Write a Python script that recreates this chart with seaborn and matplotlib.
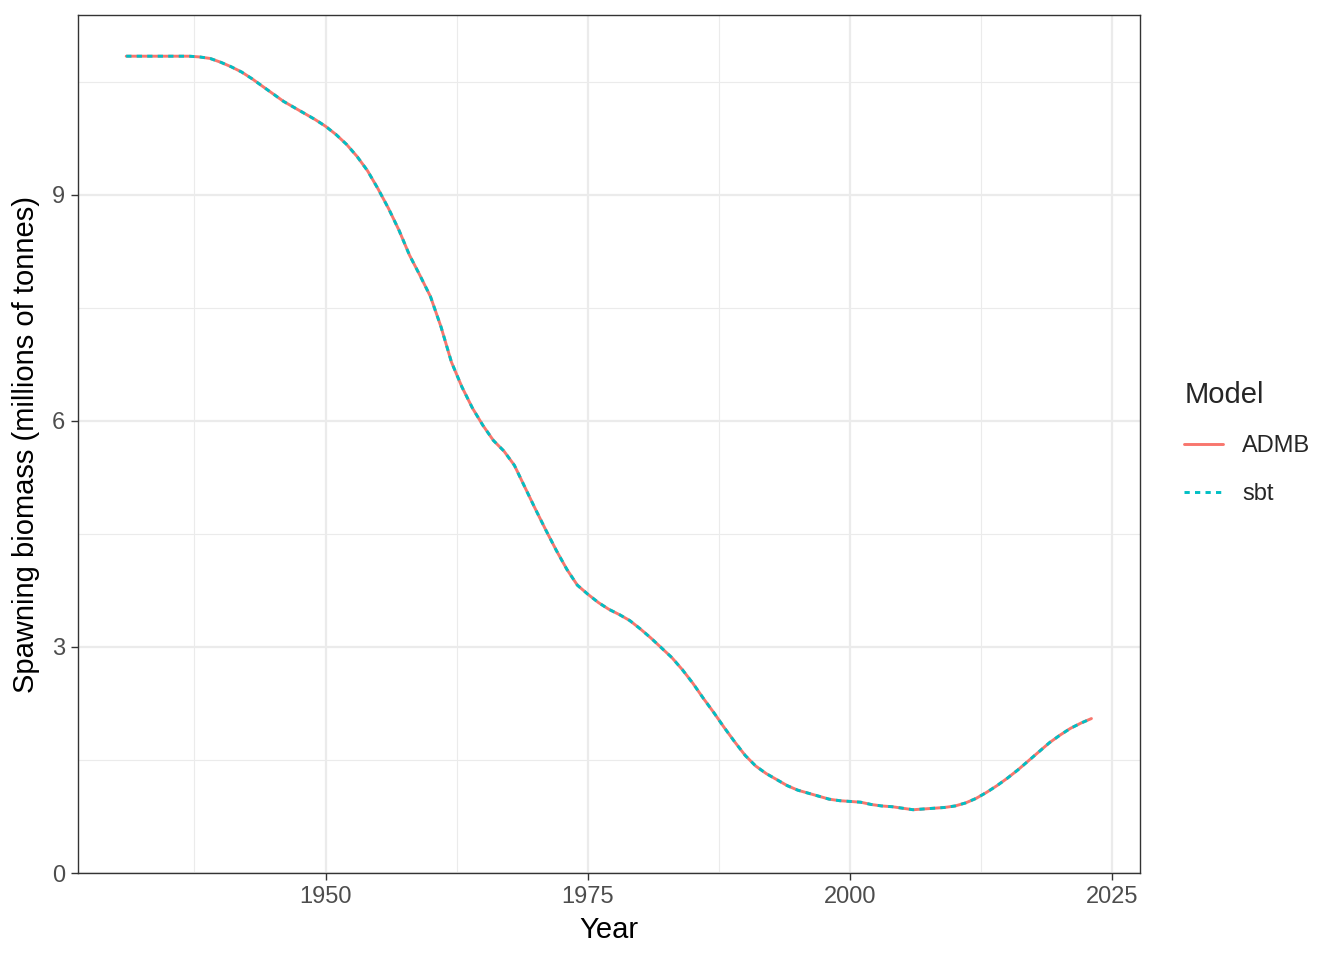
import numpy as np
import pandas as pd
import seaborn as sns
import matplotlib.pyplot as plt
from matplotlib.ticker import MultipleLocator

# spawning biomass (millions of tonnes), 1931-2023
years = np.arange(1931, 2024)
admb_biomass = [
    10.84, 10.84, 10.84, 10.84, 10.84, 10.84, 10.84, 10.83, 10.81, 10.76,
    10.70, 10.63, 10.54, 10.44, 10.34, 10.24, 10.16, 10.08, 10.00, 9.91,
    9.80, 9.67, 9.51, 9.32, 9.08, 8.82, 8.53, 8.20, 7.93, 7.65,
    7.25, 6.78, 6.45, 6.17, 5.94, 5.74, 5.60, 5.41, 5.12, 4.83,
    4.55, 4.28, 4.03, 3.82, 3.70, 3.59, 3.50, 3.43, 3.35, 3.24,
    3.12, 2.99, 2.86, 2.70, 2.52, 2.32, 2.13, 1.93, 1.74, 1.56,
    1.42, 1.32, 1.24, 1.16, 1.10, 1.06, 1.02, 0.98, 0.96, 0.95,
    0.94, 0.91, 0.89, 0.88, 0.86, 0.84, 0.85, 0.86, 0.87, 0.89,
    0.93, 0.99, 1.07, 1.16, 1.26, 1.37, 1.49, 1.61, 1.73, 1.83,
    1.92, 1.99, 2.05,
]
# the two fits overlap everywhere
sbt_biomass = list(admb_biomass)
models = ['ADMB', 'sbt']

df = pd.concat([
    pd.DataFrame({'Year': years, 'Biomass': admb_biomass, 'Model': models[0]}),
    pd.DataFrame({'Year': years, 'Biomass': sbt_biomass, 'Model': models[1]}),
])

sns.set_style('white')
plt.rcParams['font.family'] = ['Liberation Sans', 'DejaVu Sans']

fig = plt.figure(figsize=(13.44, 9.6), dpi=100)
ax = fig.add_axes([0.058, 0.0906, 0.790, 0.8934])

palette = {'ADMB': '#F8766D', 'sbt': '#00BFC4'}
sns.lineplot(data=df, x='Year', y='Biomass', hue='Model', style='Model',
             palette=palette, dashes={'ADMB': '', 'sbt': (1.8, 1.8)},
             linewidth=2.1, ax=ax, legend=False)

# ggplot-style limits: 5% expansion, y anchored at 0
xr = years.max() - years.min()
ax.set_xlim(years.min() - 0.05 * xr, years.max() + 0.05 * xr)
ax.set_ylim(0, max(admb_biomass) * 1.05)

ax.xaxis.set_minor_locator(MultipleLocator(12.5))
ax.yaxis.set_major_locator(MultipleLocator(3))
ax.yaxis.set_minor_locator(MultipleLocator(1.5))
ax.set_xticks([1950, 1975, 2000, 2025])

ax.grid(which='major', color='#EBEBEB', linewidth=1.6)
ax.grid(which='minor', color='#EBEBEB', linewidth=0.8)
ax.set_axisbelow(True)
for s in ax.spines.values():
    s.set_color('#333333')
    s.set_linewidth(1.0)

ax.tick_params(which='major', length=5, width=1, color='#333333',
               labelsize=17, labelcolor='#4D4D4D', pad=4, bottom=True, left=True)
ax.tick_params(which='minor', length=0)

ax.set_xlabel('Year', fontsize=21, color='black', labelpad=6)
ax.set_ylabel('Spawning biomass (millions of tonnes)', fontsize=21, color='black', labelpad=9)

handles = [plt.Line2D([], [], color=palette['ADMB'], linewidth=2.1),
           plt.Line2D([], [], color=palette['sbt'], linewidth=2.1, dashes=(1.8, 1.8))]
leg = fig.legend(handles, models, title='Model', loc='upper left',
                 bbox_to_anchor=(0.8654, 0.625), frameon=False,
                 fontsize=17, title_fontsize=21, handlelength=1.65,
                 handletextpad=0.8, labelspacing=1.1, alignment='left')

fig.savefig('out.png', dpi=100)
